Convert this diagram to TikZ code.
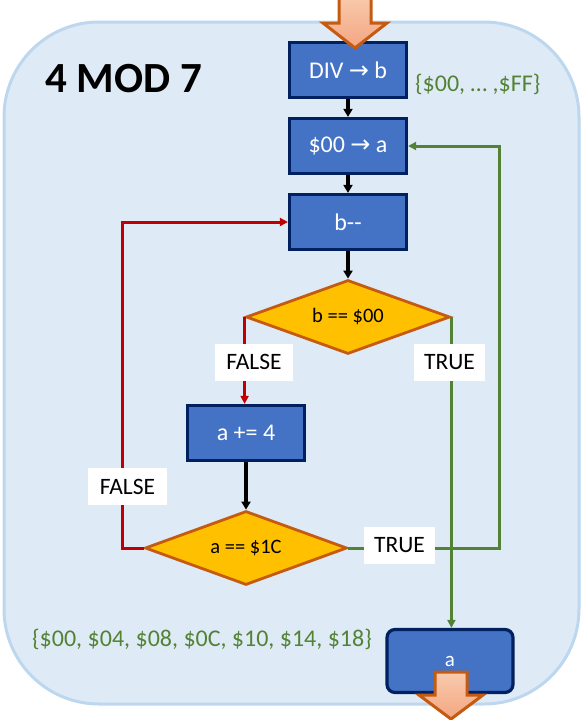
\documentclass[tikz,border=0pt]{standalone}
\usepackage{fontspec}
\setmainfont{Carlito}
\newfontfamily\arrfont{DejaVu Sans}
\usetikzlibrary{shapes.geometric,arrows.meta}
\definecolor{bgfill}{HTML}{DEEBF7}
\definecolor{bgline}{HTML}{BDD7EE}
\definecolor{boxfill}{HTML}{4472C4}
\definecolor{boxline}{HTML}{002060}
\definecolor{decfill}{HTML}{FFC000}
\definecolor{decline}{HTML}{C55A11}
\definecolor{myred}{HTML}{C00000}
\definecolor{mygreen}{HTML}{548235}
\definecolor{arrtop}{HTML}{F8CBAD}
\definecolor{arrbot}{HTML}{F4A582}
\begin{document}
\begin{tikzpicture}[x=1pt,y=-1pt,
  procbox/.style={draw=boxline,fill=boxfill,line width=3.2pt,minimum width=117pt,minimum height=55pt,inner sep=0pt,text=white,font=\fontsize{24}{28}\selectfont},
  decbox/.style={diamond,draw=decline,fill=decfill,line width=2.8pt,inner sep=0pt,aspect=2.75,font=\fontsize{20.5}{24}\selectfont},
  lbl/.style={fill=white,inner sep=0pt,minimum height=37pt,font=\fontsize{23.5}{27}\selectfont},
  flow/.style={line width=3.5pt,-{Triangle[length=8pt,width=9pt]}},
  gflow/.style={line width=3pt,mygreen,-{Triangle[length=8pt,width=8pt]}},
  rflow/.style={line width=3pt,myred,-{Triangle[length=8pt,width=8pt]}},
  greentext/.style={anchor=west,inner sep=0pt,text=mygreen,font=\fontsize{24}{28}\selectfont},
  blockarrow/.style={draw=decline,line width=3pt,line join=miter,top color=arrtop,bottom color=arrbot}]
\useasboundingbox (0,0) rectangle (583,720);
\draw[bgline,fill=bgfill,line width=3pt,rounded corners=95pt] (4,22) rectangle (579,704);

\node[anchor=base west,inner sep=0pt,font=\fontsize{43}{48}\selectfont\bfseries] (title) at (45,92) {4 MOD 7};

\node[procbox] (div) at (348,70) {DIV {\arrfont\fontsize{24}{28}\selectfont →} b};
\node[procbox] (init) at (348,146) {\$00 {\arrfont\fontsize{24}{28}\selectfont →} a};
\node[procbox] (dec) at (348,222) {b-{}-};
\node[decbox,minimum width=204pt,minimum height=74pt] (tb) at (348,317) {b == \$00};
\node[procbox] (add) at (246,433) {a += 4};
\node[decbox,minimum width=202pt,minimum height=74pt] (ta) at (246,548) {a == \$1C};
\node[procbox,rounded corners=8pt,minimum width=126pt,minimum height=63pt,font=\fontsize{21}{25}\selectfont] (res) at (450,661) {a};

\node[greentext] (r1) at (415,84) {\{\$00, … ,\$FF\}};
\node[greentext] (r2) at (32,639) {\{\$00, \$04, \$08, \$0C, \$10, \$14, \$18\}};

\draw[flow] (div) -- (init);
\draw[flow] (init) -- (dec);
\draw[flow] (dec) -- (tb);
\draw[flow] (add) -- (ta);

\draw[rflow] (tb.west) -- (tb.west |- add.north);
\coordinate (rl) at (122,548);
\draw[rflow] (ta.west) -- (rl) |- (dec.west);

\coordinate (gr) at (499,548);
\draw[gflow] (ta.east) -- (gr) |- (init.east);
\draw[gflow] (tb.east) -- (tb.east |- res.north);

\node[lbl,minimum width=78pt] (f1) at (254,362) {FALSE};
\node[lbl,minimum width=71pt] (t1) at (449.5,362) {TRUE};
\node[lbl,minimum width=79pt] (f2) at (127.5,486.5) {FALSE};
\node[lbl,minimum width=71pt] (t2) at (399.5,545.5) {TRUE};

\draw[blockarrow] (339,-5) -- (371,-5) -- (371,23) -- (387,23) -- (355,48) -- (323,23) -- (339,23) -- cycle;
\draw[blockarrow] (435,672) -- (467,672) -- (467,695) -- (483,695) -- (451,719) -- (419,695) -- (435,695) -- cycle;
\end{tikzpicture}
\end{document}
